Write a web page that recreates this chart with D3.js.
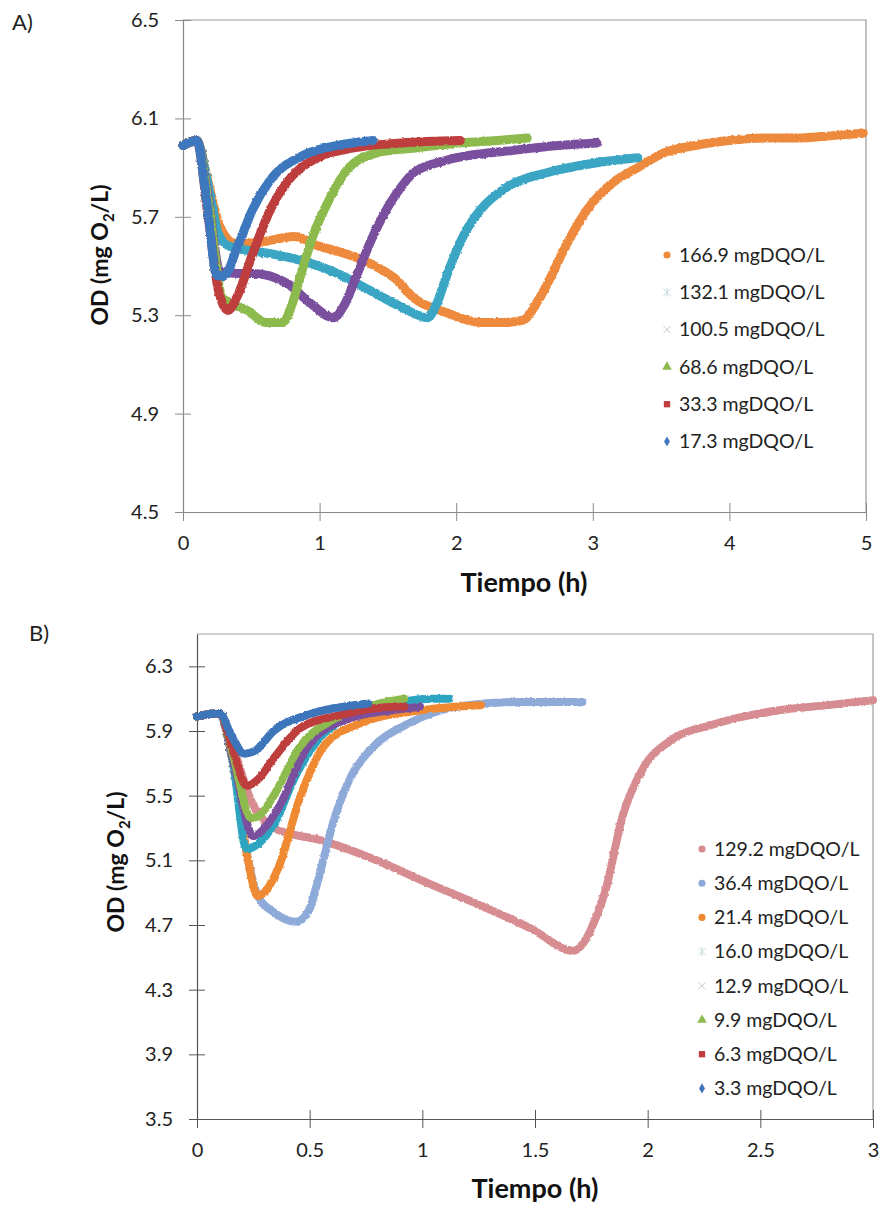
<!DOCTYPE html>
<html>
<head>
<meta charset="utf-8">
<script src="https://cdn.jsdelivr.net/npm/d3@7"></script>
<style>
  html, body { margin: 0; padding: 0; background: #fff; }
  svg { display: block; font-family: Lato, "Open Sans", sans-serif; }
</style>
</head>
<body>
<svg id="chart" width="881" height="1205"></svg>
<script>
// ---------- Panel A: dissolved oxygen response (time h, OD mg O2/L) ----------
const labelsA = ["166.9 mgDQO/L", "132.1 mgDQO/L", "100.5 mgDQO/L", "68.6 mgDQO/L", "33.3 mgDQO/L", "17.3 mgDQO/L"];
const colorsA = ["#EE8A3C", "#3AA6C4", "#7A4F9E", "#8DBA4E", "#BE3D3E", "#3E78BF"];
const symbolsA = ["circle", "asterisk", "cross", "triangle", "square", "diamond"];
const xTicksA = [0, 1, 2, 3, 4, 5];
const yTicksA = [4.5, 4.9, 5.3, 5.7, 6.1, 6.5];

const odA_1669 = [[0,5.99],[0.1,6.01],[0.18,5.85],[0.27,5.66],[0.39,5.59],[0.6,5.6],[0.81,5.62],[1.0,5.58],[1.13,5.56],[1.37,5.51],[1.55,5.45],[1.69,5.37],[1.93,5.31],[2.18,5.27],[2.35,5.27],[2.49,5.28],[2.6,5.36],[2.67,5.43],[2.81,5.59],[2.96,5.73],[3.15,5.84],[3.33,5.9],[3.52,5.96],[3.75,5.99],[4.0,6.01],[4.25,6.02],[4.5,6.02],[4.75,6.03],[4.98,6.04]];
const odA_1321 = [[0,5.99],[0.1,6.01],[0.18,5.84],[0.26,5.63],[0.34,5.58],[0.64,5.55],[0.88,5.52],[1.13,5.47],[1.37,5.4],[1.61,5.33],[1.79,5.29],[1.86,5.35],[1.93,5.46],[2.05,5.62],[2.18,5.73],[2.37,5.82],[2.67,5.88],[3.03,5.92],[3.33,5.94]];
const odA_1005 = [[0,5.99],[0.1,6.01],[0.18,5.8],[0.27,5.48],[0.4,5.47],[0.51,5.47],[0.76,5.43],[0.93,5.35],[1.1,5.29],[1.18,5.34],[1.27,5.46],[1.39,5.62],[1.5,5.74],[1.57,5.8],[1.69,5.88],[1.93,5.93],[2.42,5.97],[2.75,5.99],[3.03,6.0]];
const odA_686 = [[0,5.99],[0.1,6.01],[0.18,5.78],[0.29,5.37],[0.47,5.32],[0.61,5.27],[0.73,5.27],[0.79,5.33],[0.86,5.46],[0.95,5.62],[1.08,5.78],[1.2,5.89],[1.42,5.96],[1.7,5.98],[2.03,6.0],[2.3,6.01],[2.52,6.02]];
const odA_333 = [[0,5.99],[0.1,6.01],[0.18,5.72],[0.26,5.4],[0.33,5.32],[0.4,5.38],[0.51,5.55],[0.64,5.73],[0.76,5.84],[0.95,5.93],[1.25,5.98],[1.6,6.0],[2.03,6.01]];
const odA_173 = [[0,5.99],[0.1,6.01],[0.17,5.78],[0.25,5.46],[0.3,5.46],[0.4,5.58],[0.51,5.73],[0.64,5.85],[0.88,5.95],[1.13,5.99],[1.39,6.01]];
const seriesA = [odA_1669, odA_1321, odA_1005, odA_686, odA_333, odA_173];

// ---------- Panel B ----------
const labelsB = ["129.2 mgDQO/L", "36.4 mgDQO/L", "21.4 mgDQO/L", "16.0 mgDQO/L", "12.9 mgDQO/L", "9.9 mgDQO/L", "6.3 mgDQO/L", "3.3 mgDQO/L"];
const colorsB = ["#D68C90", "#8EAAD8", "#F08A32", "#2FA5C0", "#7A4F9E", "#8EBB4E", "#BE3D3E", "#3E74BB"];
const symbolsB = ["circle", "circle", "circle", "asterisk", "cross", "triangle", "square", "diamond"];
const xTicksB = [0, 0.5, 1, 1.5, 2, 2.5, 3];
const yTicksB = [3.5, 3.9, 4.3, 4.7, 5.1, 5.5, 5.9, 6.3];

const odB_1292 = [[0,5.99],[0.1,6.01],[0.16,5.8],[0.24,5.47],[0.34,5.3],[0.56,5.22],[0.78,5.11],[1.04,4.95],[1.26,4.82],[1.48,4.68],[1.67,4.54],[1.72,4.6],[1.78,4.78],[1.81,4.9],[1.89,5.38],[1.98,5.67],[2.1,5.84],[2.29,5.94],[2.59,6.03],[2.8,6.06],[3.0,6.09]];
const odB_364 = [[0,5.99],[0.1,6.01],[0.16,5.7],[0.22,5.15],[0.27,4.88],[0.34,4.78],[0.44,4.72],[0.5,4.8],[0.53,4.94],[0.61,5.36],[0.68,5.61],[0.78,5.8],[0.93,5.94],[1.2,6.06],[1.45,6.08],[1.71,6.08]];
const odB_214 = [[0,5.99],[0.1,6.01],[0.16,5.7],[0.22,5.15],[0.27,4.88],[0.31,4.92],[0.36,5.05],[0.46,5.5],[0.56,5.8],[0.71,5.94],[1.0,6.03],[1.26,6.06]];
const odB_160 = [[0,5.99],[0.1,6.01],[0.16,5.7],[0.22,5.17],[0.27,5.2],[0.34,5.32],[0.44,5.63],[0.56,5.88],[0.78,6.03],[1.04,6.1],[1.12,6.1]];
const odB_129 = [[0,5.99],[0.1,6.01],[0.16,5.72],[0.25,5.25],[0.3,5.3],[0.36,5.42],[0.48,5.78],[0.64,5.96],[0.93,6.04],[0.99,6.05]];
const odB_99 = [[0,5.99],[0.1,6.01],[0.16,5.75],[0.24,5.36],[0.28,5.38],[0.34,5.5],[0.46,5.81],[0.59,5.96],[0.78,6.06],[0.92,6.1]];
const odB_63 = [[0,5.99],[0.1,6.01],[0.16,5.78],[0.22,5.56],[0.27,5.6],[0.34,5.73],[0.46,5.92],[0.64,6.0],[0.89,6.05],[0.92,6.05]];
const odB_33 = [[0,5.99],[0.1,6.01],[0.15,5.88],[0.21,5.76],[0.26,5.78],[0.34,5.9],[0.49,6.0],[0.7,6.06],[0.76,6.07]];
const seriesB = [odB_1292, odB_364, odB_214, odB_160, odB_129, odB_99, odB_63, odB_33];

const svg = d3.select("#chart");

// slightly ragged edge for the dense marker traces
const defs = svg.append("defs");
const rough = defs.append("filter").attr("id", "rough")
  .attr("x", "-5%").attr("y", "-5%").attr("width", "110%").attr("height", "110%");
rough.append("feTurbulence").attr("type", "fractalNoise").attr("baseFrequency", 0.35)
  .attr("numOctaves", 2).attr("seed", 3).attr("result", "noise");
rough.append("feDisplacementMap").attr("in", "SourceGraphic").attr("in2", "noise")
  .attr("scale", 2.6).attr("xChannelSelector", "R").attr("yChannelSelector", "G");

// Legend glyphs: filled symbols use d3 symbol types, star/x use thin strokes
const symbolType = {
  circle: d3.symbolCircle, triangle: d3.symbolTriangle,
  square: d3.symbolSquare, diamond: d3.symbolDiamond
};

function drawPanel(cfg) {
  const g = svg.append("g");
  const x = d3.scaleLinear().domain(cfg.xDomain).range([cfg.left, cfg.right]);
  const y = d3.scaleLinear().domain(cfg.yDomain).range([cfg.bottom, cfg.top]);

  // light frame on top and right
  g.append("path")
    .attr("d", `M${cfg.left},${cfg.top}H${cfg.right}V${cfg.bottom}`)
    .attr("fill", "none").attr("stroke", cfg.frameColor).attr("stroke-width", 1.2);

  // y axis with ticks crossing the axis line
  const ya = g.append("g").attr("transform", `translate(${cfg.left},0)`)
    .call(d3.axisLeft(y).tickValues(cfg.yTicks).tickFormat(d3.format(".1f")).tickSizeOuter(0).tickSizeInner(8).tickPadding(16));
  ya.selectAll(".tick line").attr("x1", 8).attr("x2", -8).attr("stroke", cfg.axisColor);
  ya.select(".domain").attr("stroke", cfg.axisColor).attr("stroke-width", 1.2);
  ya.selectAll("text").attr("font-size", 20).attr("fill", "#222").attr("font-family", "Lato, sans-serif");

  // x axis
  const xa = g.append("g").attr("transform", `translate(0,${cfg.bottom})`)
    .call(d3.axisBottom(x).tickValues(cfg.xTicks).tickFormat(d => String(d)).tickSizeOuter(0).tickSizeInner(9).tickPadding(15));
  xa.selectAll(".tick line").attr("y1", 9).attr("y2", -9).attr("stroke", cfg.axisColor);
  xa.select(".domain").attr("stroke", cfg.axisColor).attr("stroke-width", 1.2);
  xa.selectAll("text").attr("font-size", 20).attr("fill", "#222").attr("font-family", "Lato, sans-serif");

  // data curves, first series at the bottom
  const line = d3.line().x(d => x(d[0])).y(d => y(d[1])).curve(d3.curveMonotoneX);
  const curves = g.append("g").attr("filter", "url(#rough)");
  cfg.series.forEach((s, i) => {
    curves.append("path").datum(s)
      .attr("d", line)
      .attr("fill", "none")
      .attr("stroke", cfg.colors[i])
      .attr("stroke-width", cfg.lineWidth)
      .attr("stroke-linecap", "round")
      .attr("stroke-linejoin", "round");
  });

  // legend
  const lg = g.append("g");
  cfg.labels.forEach((lab, i) => {
    const ly = cfg.legendY + i * cfg.legendStep;
    const mx = cfg.legendX;
    const sym = cfg.symbols[i];
    if (symbolType[sym]) {
      lg.append("path")
        .attr("d", d3.symbol().type(symbolType[sym]).size(sym === "diamond" ? 30 : 40)())
        .attr("transform", `translate(${mx},${ly})`)
        .attr("fill", cfg.colors[i]);
    } else if (sym === "cross") {
      lg.append("path").attr("d", "M-3.5,-3.5L3.5,3.5M-3.5,3.5L3.5,-3.5")
        .attr("transform", `translate(${mx},${ly})`)
        .attr("stroke", "#c8c8c8").attr("stroke-width", 1).attr("fill", "none");
    } else {
      lg.append("path").attr("d", "M-3.5,-3.5L3.5,3.5M-3.5,3.5L3.5,-3.5M0,-4.5V4.5")
        .attr("transform", `translate(${mx},${ly})`)
        .attr("stroke", "#c4d8de").attr("stroke-width", 1).attr("fill", "none");
    }
    lg.append("text")
      .attr("x", mx + 12).attr("y", ly).attr("dy", "0.35em")
      .attr("font-size", 19.5).attr("fill", "#222")
      .text(lab);
  });

  // axis titles
  g.append("text")
    .attr("x", cfg.xTitleX).attr("y", cfg.xTitleY)
    .attr("text-anchor", "middle").attr("font-weight", "bold").attr("font-size", 27).attr("fill", "#111")
    .text("Tiempo (h)");

  const yt = g.append("text")
    .attr("transform", `translate(${cfg.yTitleX},${cfg.yTitleY}) rotate(-90)`)
    .attr("text-anchor", "middle").attr("font-weight", "bold").attr("font-size", 23).attr("fill", "#111");
  yt.append("tspan").text("OD (mg O");
  yt.append("tspan").text("2").attr("font-size", 15).attr("dy", 6);
  yt.append("tspan").text("/L)").attr("dy", -6);

  // panel tag
  g.append("text")
    .attr("x", cfg.tagX).attr("y", cfg.tagY)
    .attr("font-size", 22).attr("fill", "#222")
    .text(cfg.tag);
}

drawPanel({
  tag: "A)", tagX: 12, tagY: 30,
  left: 183, right: 866, top: 20, bottom: 512,
  xDomain: [0, 5], yDomain: [4.5, 6.5],
  xTicks: xTicksA, yTicks: yTicksA,
  series: seriesA, colors: colorsA, labels: labelsA, symbols: symbolsA,
  lineWidth: 9,
  legendX: 667, legendY: 255, legendStep: 37.3,
  xTitleX: 524, xTitleY: 592,
  yTitleX: 108, yTitleY: 255,
  frameColor: "#9a9a9a", axisColor: "#8a8a8a"
});

drawPanel({
  tag: "B)", tagX: 29, tagY: 641,
  left: 197, right: 873, top: 634, bottom: 1119,
  xDomain: [0, 3], yDomain: [3.5, 6.5],
  xTicks: xTicksB, yTicks: yTicksB,
  series: seriesB, colors: colorsB, labels: labelsB, symbols: symbolsB,
  lineWidth: 8,
  legendX: 702, legendY: 849, legendStep: 34.2,
  xTitleX: 535, xTitleY: 1198,
  yTitleX: 124, yTitleY: 862,
  frameColor: "#a0a0a0", axisColor: "#555"
});
</script>
</body>
</html>
